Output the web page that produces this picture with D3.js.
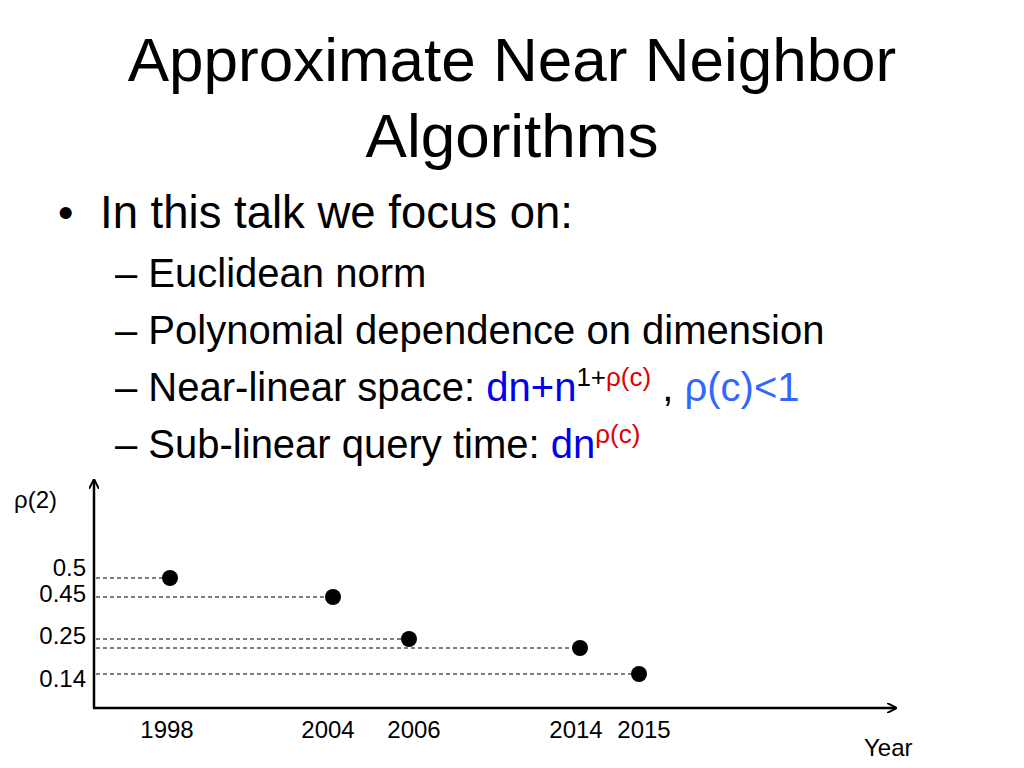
<!DOCTYPE html><html><head><meta charset="utf-8">
<script src="https://cdn.jsdelivr.net/npm/d3@7"></script>
<style>body{margin:0;background:#fff}svg{font-family:"Liberation Sans",Arial,sans-serif}</style></head><body>
<svg id="c" width="1024" height="768"></svg>
<script>
const years=[1998,2004,2006,2014,2015];
const rho=[0.5,0.45,0.25,0.22,0.14];
const yTickLabels=["0.5","0.45","0.25","0.14"];
const yTickValues=[0.5,0.45,0.25,0.14];
const svg=d3.select("#c");
svg.append("text").attr("x",512).attr("y",81).attr("text-anchor","middle").attr("font-size",62).text("Approximate Near Neighbor");
svg.append("text").attr("x",512).attr("y",157).attr("text-anchor","middle").attr("font-size",62).text("Algorithms");
svg.append("text").attr("x",58).attr("y",228).attr("font-size",44).text("•");
svg.append("text").attr("x",100).attr("y",228).attr("font-size",45.5).text("In this talk we focus on:");
const sub=[["– Euclidean norm",287],["– Polynomial dependence on dimension",344]];
sub.forEach(s=>svg.append("text").attr("x",115).attr("y",s[1]).attr("font-size",40).text(s[0]));
let t=svg.append("text").attr("x",115).attr("y",401).attr("font-size",40);
t.append("tspan").text("– Near-linear space: ");
t.append("tspan").attr("fill","#0000ee").text("dn+n");
t.append("tspan").attr("font-size",26).attr("dy",-15).text("1+");
t.append("tspan").attr("font-size",26).attr("fill","#e00000").text("ρ(c)");
t.append("tspan").attr("dy",15).text(" , ");
t.append("tspan").attr("fill","#3366ff").text("ρ(c)<1");
t=svg.append("text").attr("x",115).attr("y",458).attr("font-size",40);
t.append("tspan").text("– Sub-linear query time: ");
t.append("tspan").attr("fill","#0000ee").text("dn");
t.append("tspan").attr("font-size",26).attr("dy",-15).attr("fill","#e00000").text("ρ(c)");
const x=d3.scaleLinear().domain(years).range([170,333,409,580,639]);
const y=d3.scaleLinear().domain(rho).range([578,597,639,648,674]);
const x0=94,yb=708;
svg.append("defs").append("marker").attr("id","ar").attr("viewBox","0 0 10 10").attr("refX",9).attr("refY",5)
 .attr("markerWidth",10).attr("markerHeight",10).attr("markerUnits","userSpaceOnUse").attr("orient","auto")
 .append("path").attr("d","M0,0L10,5L0,10").attr("fill","none").attr("stroke","#000").attr("stroke-width",2);
svg.append("line").attr("x1",x0).attr("y1",yb).attr("x2",x0).attr("y2",480).attr("stroke","#000").attr("stroke-width",2.5).attr("marker-end","url(#ar)");
svg.append("line").attr("x1",x0-1).attr("y1",yb).attr("x2",896).attr("y2",yb).attr("stroke","#000").attr("stroke-width",2.5).attr("marker-end","url(#ar)");
const labelShift=[-3,-5,5,-4,5];
years.forEach((yr,i)=>{
 svg.append("line").attr("x1",x0+2).attr("x2",x(yr)).attr("y1",y(rho[i])).attr("y2",y(rho[i])).attr("stroke","#000").attr("stroke-width",1).attr("stroke-dasharray","4,3");
 svg.append("circle").attr("cx",x(yr)).attr("cy",y(rho[i])).attr("r",8).attr("fill","#000");
 svg.append("text").attr("x",x(yr)+labelShift[i]).attr("y",738).attr("text-anchor","middle").attr("font-size",24).text(yr);
});
const yl={0.5:576,0.45:602,0.25:644,0.14:687};
yTickValues.forEach((v,i)=>svg.append("text").attr("x",86).attr("y",yl[v]).attr("text-anchor","end").attr("font-size",24).text(yTickLabels[i]));
svg.append("text").attr("x",14).attr("y",508).attr("font-size",24).text("ρ(2)");
svg.append("text").attr("x",864).attr("y",756).attr("font-size",24).text("Year");
</script></body></html>
